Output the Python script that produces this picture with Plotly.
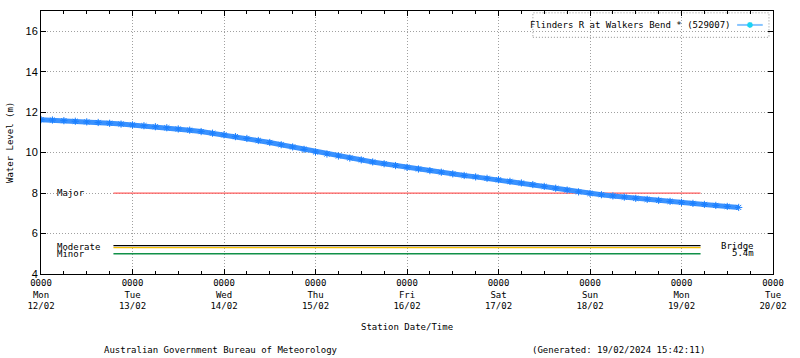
import plotly.graph_objects as go

# ---- data ----
times = [
    "2024-02-12 00:00", "2024-02-12 03:00", "2024-02-12 06:00", "2024-02-12 09:00",
    "2024-02-12 12:00", "2024-02-12 15:00", "2024-02-12 18:00", "2024-02-12 21:00",
    "2024-02-13 00:00", "2024-02-13 03:00", "2024-02-13 06:00", "2024-02-13 09:00",
    "2024-02-13 12:00", "2024-02-13 15:00", "2024-02-13 18:00", "2024-02-13 21:00",
    "2024-02-14 00:00", "2024-02-14 03:00", "2024-02-14 06:00", "2024-02-14 09:00",
    "2024-02-14 12:00", "2024-02-14 15:00", "2024-02-14 18:00", "2024-02-14 21:00",
    "2024-02-15 00:00", "2024-02-15 03:00", "2024-02-15 06:00", "2024-02-15 09:00",
    "2024-02-15 12:00", "2024-02-15 15:00", "2024-02-15 18:00", "2024-02-15 21:00",
    "2024-02-16 00:00", "2024-02-16 03:00", "2024-02-16 06:00", "2024-02-16 09:00",
    "2024-02-16 12:00", "2024-02-16 15:00", "2024-02-16 18:00", "2024-02-16 21:00",
    "2024-02-17 00:00", "2024-02-17 03:00", "2024-02-17 06:00", "2024-02-17 09:00",
    "2024-02-17 12:00", "2024-02-17 15:00", "2024-02-17 18:00", "2024-02-17 21:00",
    "2024-02-18 00:00", "2024-02-18 03:00", "2024-02-18 06:00", "2024-02-18 09:00",
    "2024-02-18 12:00", "2024-02-18 15:00", "2024-02-18 18:00", "2024-02-18 21:00",
    "2024-02-19 00:00", "2024-02-19 03:00", "2024-02-19 06:00", "2024-02-19 09:00",
    "2024-02-19 12:00", "2024-02-19 15:00",
]
levels = [
    11.63, 11.61, 11.58, 11.55, 11.52, 11.49, 11.45, 11.41,
    11.37, 11.33, 11.28, 11.23, 11.17, 11.11, 11.04, 10.96,
    10.88, 10.79, 10.70, 10.60, 10.50, 10.39, 10.28, 10.16,
    10.03, 9.93, 9.83, 9.73, 9.64, 9.54, 9.45, 9.36,
    9.27, 9.19, 9.11, 9.03, 8.95, 8.87, 8.80, 8.73,
    8.66, 8.58, 8.50, 8.42, 8.33, 8.24, 8.15, 8.06,
    7.98, 7.92, 7.86, 7.80, 7.74, 7.69, 7.64, 7.59,
    7.54, 7.49, 7.44, 7.39, 7.34, 7.29,
]
series_name = "Flinders R at Walkers Bend * (529007)"

threshold_names = ["Major", "Bridge", "Moderate", "Minor"]
threshold_levels = [8.0, 5.4, 5.3, 5.0]
threshold_colors = ["#ff5c5c", "#000000", "#f5c000", "#109048"]
threshold_start = "2024-02-12 19:00"
threshold_end = "2024-02-19 05:00"

tick_dates = ["2024-02-%02d" % d for d in range(12, 21)]
tick_labels = ["0000<br>Mon<br>12/02", "0000<br>Tue<br>13/02", "0000<br>Wed<br>14/02",
               "0000<br>Thu<br>15/02", "0000<br>Fri<br>16/02", "0000<br>Sat<br>17/02",
               "0000<br>Sun<br>18/02", "0000<br>Mon<br>19/02", "0000<br>Tue<br>20/02"]
y_ticks = [4, 6, 8, 10, 12, 14, 16]

MONO = "DejaVu Sans Mono"

fig = go.Figure()

for name, lvl, col in zip(threshold_names, threshold_levels, threshold_colors):
    fig.add_trace(go.Scatter(
        x=[threshold_start, threshold_end], y=[lvl, lvl], mode="lines",
        line=dict(color=col, width=1.3), showlegend=False, hoverinfo="skip"))

fig.add_trace(go.Scatter(
    x=times, y=levels, mode="lines+markers", name=series_name,
    line=dict(color="#3a92ff", width=5),
    marker=dict(symbol="asterisk-open", size=6, color="#1a7fff",
                line=dict(color="#1a7fff", width=1)),
    showlegend=False))

grid = dict(showgrid=True, gridcolor="#a0a0a0", griddash="1px,2px", gridwidth=1)

fig.update_layout(
    width=800, height=358,
    margin=dict(l=41, r=27, t=11, b=84),
    paper_bgcolor="white", plot_bgcolor="white",
    font=dict(family=MONO, size=9, color="black"),
    xaxis=dict(
        type="date", range=["2024-02-12", "2024-02-20"],
        tickvals=tick_dates, ticktext=tick_labels,
        ticks="inside", ticklen=5, tickcolor="black",
        minor=dict(dtick=6 * 3600 * 1000, ticks="inside", ticklen=3, tickcolor="black",
                   showgrid=False),
        showline=True, linecolor="black", linewidth=1, mirror="ticks",
        tickfont=dict(family=MONO, size=9), zeroline=False, **grid),
    yaxis=dict(
        range=[4, 17], tickvals=y_ticks,
        ticks="inside", ticklen=5, tickcolor="black",
        showline=True, linecolor="black", linewidth=1, mirror="ticks",
        tickfont=dict(family="Liberation Sans", size=11), zeroline=False, **grid),
)

# labels for thresholds
fig.add_annotation(xref="paper", yref="y", x=0.019, y=8.0, text="Major",
                   showarrow=False, xanchor="left", yanchor="middle")
fig.add_annotation(xref="paper", yref="y", x=0.019, y=5.32, text="Moderate",
                   showarrow=False, xanchor="left", yanchor="middle")
fig.add_annotation(xref="paper", yref="y", x=0.019, y=4.98, text="Minor",
                   showarrow=False, xanchor="left", yanchor="middle")
fig.add_annotation(xref="paper", yref="y", x=0.977, y=5.4, text="Bridge",
                   showarrow=False, xanchor="right", yanchor="middle")
fig.add_annotation(xref="paper", yref="y", x=0.977, y=5.06, text="5.4m",
                   showarrow=False, xanchor="right", yanchor="middle")

# legend (text + sample line, dotted box)
fig.add_shape(type="rect", xref="paper", yref="paper", x0=0.672, x1=0.9945, y0=0.9,
              y1=0.993, line=dict(color="#909090", width=1, dash="1px,2px"),
              fillcolor="white", layer="between")
fig.add_annotation(xref="paper", yref="paper", x=0.944, y=0.947, text=series_name,
                   showarrow=False, xanchor="right", yanchor="middle")
fig.add_shape(type="line", xref="paper", yref="paper", x0=0.951, x1=0.986, y0=0.947,
              y1=0.947, line=dict(color="#87c4ff", width=2), layer="between")
fig.add_trace(go.Scatter(x=[0.9685], y=[0.947], xaxis="x2", yaxis="y2", mode="markers",
                         marker=dict(symbol="asterisk-open", size=5,
                                     line=dict(color="#1a7fff", width=1.5)),
                         showlegend=False, hoverinfo="skip"))
fig.update_layout(
    xaxis2=dict(overlaying="x", range=[0, 1], visible=False, anchor="y2"),
    yaxis2=dict(overlaying="y", range=[0, 1], visible=False, anchor="x2"),
)

# axis titles and footer
fig.add_annotation(xref="paper", yref="paper", x=-0.043, y=0.5, text="Water Level (m)",
                   textangle=-90, showarrow=False, xanchor="center", yanchor="middle")
fig.add_annotation(xref="paper", yref="paper", x=0.5, y=-0.2, text="Station Date/Time",
                   showarrow=False, xanchor="center", yanchor="middle")
fig.add_annotation(xref="paper", yref="paper", x=0.083, y=-0.29,
                   text="Australian Government Bureau of Meteorology",
                   showarrow=False, xanchor="left", yanchor="middle")
fig.add_annotation(xref="paper", yref="paper", x=0.668, y=-0.29,
                   text="(Generated: 19/02/2024 15:42:11)",
                   showarrow=False, xanchor="left", yanchor="middle")

fig.write_html("out.html", config={"displayModeBar": False},
               post_script="document.body.style.margin='0';")
